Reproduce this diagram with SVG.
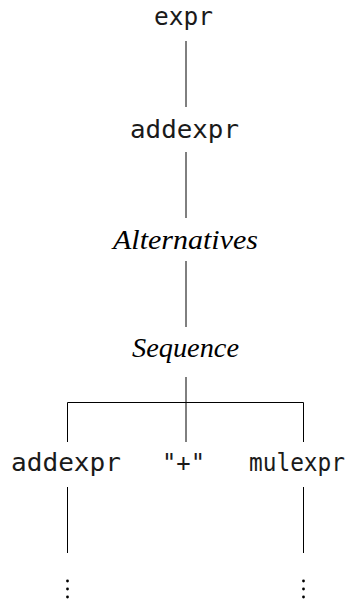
<svg xmlns="http://www.w3.org/2000/svg" width="359" height="605" viewBox="0 0 359 605">
  <style>
    .mono { font-family: "DejaVu Sans Mono", monospace; font-size: 24px; fill: #1a1a1a; }
    .it { font-family: "Liberation Serif", serif; font-style: italic; font-size: 28px; fill: #000; }
    .edge { stroke: #000; stroke-width: 1; fill: none; }
    .dot { fill: #000; }
  </style>
  <rect width="359" height="605" fill="#fff"/>
  <g id="connectors">
    <line class="edge" x1="186" y1="41" x2="186" y2="107"/>
    <line class="edge" x1="186" y1="152" x2="186" y2="218"/>
    <line class="edge" x1="186" y1="261" x2="186" y2="327"/>
    <line class="edge" x1="186" y1="377" x2="186" y2="402.5" stroke-width="2"/>
    <path class="edge" d="M67.5 442 V402.5 H303.5 V442"/>
    <line class="edge" x1="186" y1="402.5" x2="186" y2="442"/>
    <line class="edge" x1="67.5" y1="487" x2="67.5" y2="553"/>
    <line class="edge" x1="303.5" y1="487" x2="303.5" y2="553"/>
  </g>
  <g id="expr"><text class="mono" x="154" y="25" textLength="59" lengthAdjust="spacingAndGlyphs">expr</text></g>
  <g id="addexpr-top"><text class="mono" x="130" y="138" textLength="109" lengthAdjust="spacingAndGlyphs">addexpr</text></g>
  <g id="alternatives"><text class="it" x="113" y="249" textLength="145" lengthAdjust="spacingAndGlyphs">Alternatives</text></g>
  <g id="sequence"><text class="it" x="132" y="357" textLength="107" lengthAdjust="spacingAndGlyphs">Sequence</text></g>
  <g id="addexpr"><text class="mono" x="11" y="471" textLength="110" lengthAdjust="spacingAndGlyphs">addexpr</text></g>
  <g id="plus"><text class="mono" x="162" y="471" textLength="43" lengthAdjust="spacingAndGlyphs">"+"</text></g>
  <g id="mulexpr"><text class="mono" x="249" y="471" textLength="96" lengthAdjust="spacingAndGlyphs">mulexpr</text></g>
  <g id="ellipsis-left">
    <circle class="dot" cx="67.5" cy="581" r="1.4"/>
    <circle class="dot" cx="67.5" cy="589" r="1.4"/>
    <circle class="dot" cx="67.5" cy="597" r="1.4"/>
  </g>
  <g id="ellipsis-right">
    <circle class="dot" cx="303.5" cy="581" r="1.4"/>
    <circle class="dot" cx="303.5" cy="589" r="1.4"/>
    <circle class="dot" cx="303.5" cy="597" r="1.4"/>
  </g>
</svg>
